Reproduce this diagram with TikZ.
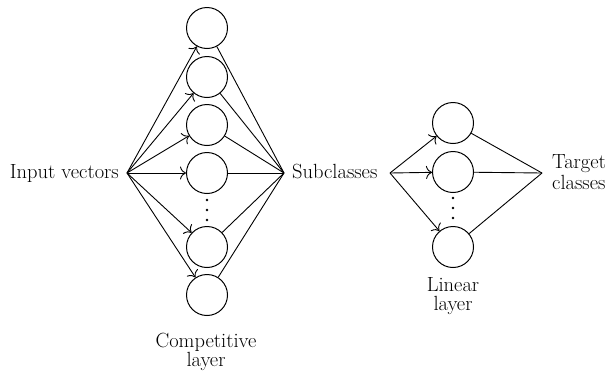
\documentclass[tikz,border=0pt]{standalone}
\usetikzlibrary{arrows.meta}
\begin{document}
\begin{tikzpicture}[x=1pt,y=-1pt,
  neuron/.style={draw,circle,minimum size=41pt,inner sep=0pt,line width=1pt},
  link/.style={line width=0.9pt},
  feed/.style={line width=0.9pt,-{To[length=6pt,width=13pt]}},
  lbl/.style={font=\fontsize{20.5}{22}\selectfont,inner sep=0pt},
  dot/.style={circle,fill,inner sep=0pt,minimum size=2.8pt}]
\useasboundingbox (0,0) rectangle (607,373);

% hub points
\coordinate (in)  at (127,173);
\coordinate (sub) at (284,173);
\coordinate (sub2) at (390,173);
\coordinate (tgt) at (542,173);

% labels
\node[lbl,anchor=base east] (inlbl) at (119,178) {Input vectors};
\node[lbl,anchor=base west] (sublbl) at (292,178) {Subclasses};
\node[lbl,anchor=base west] (tgtlbl1) at (552,168) {Target};
\node[lbl,anchor=base west] (tgtlbl2) at (552,189) {classes};
\node[lbl,anchor=base] (complbl1) at (206,347) {Competitive};
\node[lbl,anchor=base] (complbl2) at (206,366) {layer};
\node[lbl,anchor=base] (linlbl1) at (453,291) {Linear};
\node[lbl,anchor=base] (linlbl2) at (453,310) {layer};

% competitive layer
\foreach \i/\y in {1/28,2/77,3/125,4/173,5/247,6/295}
  \node[neuron] (c\i) at (207,\y) {};
\foreach \y in {200,210,220}
  \node[dot] at (207,\y) {};

% linear layer
\foreach \i/\y in {1/123,2/172,3/247}
  \node[neuron] (l\i) at (453,\y) {};
\foreach \y in {198,208,218}
  \node[dot] at (453,\y) {};

% connections
\foreach \i in {1,...,6} {
  \draw[feed] (in) -- (c\i);
  \draw[link] (c\i) -- (sub);
}
\foreach \i in {1,2,3} {
  \draw[feed] (sub2) -- (l\i);
  \draw[link] (l\i) -- (tgt);
}
\end{tikzpicture}
\end{document}
